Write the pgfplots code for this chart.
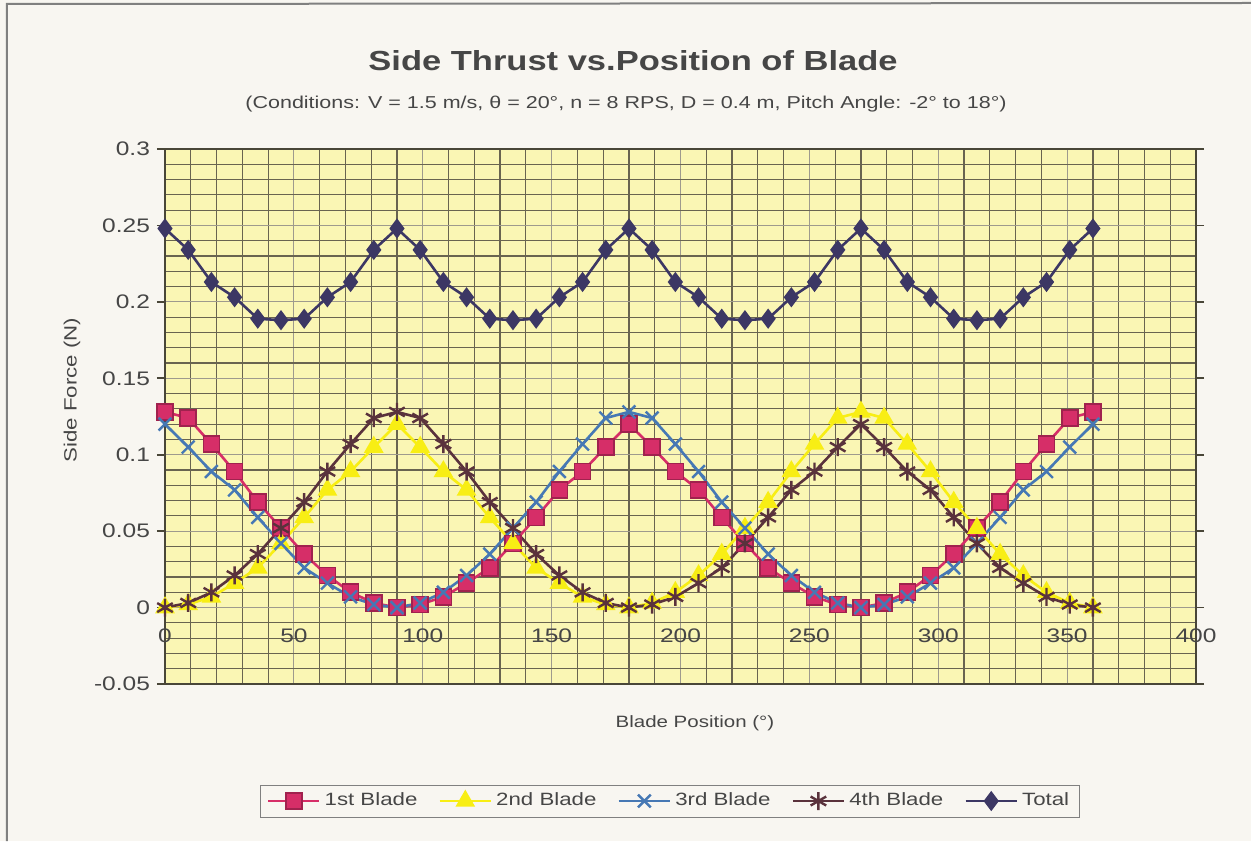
\documentclass[border=0pt]{standalone}
\usepackage{fontspec}
\setmainfont{Liberation Sans}[FakeStretch=1.25]
\usepackage{pgfplots}
\pgfplotsset{compat=1.18}
\usepackage{pgfplotstable}
\definecolor{bgyel}{RGB}{250,246,180}
\definecolor{gridc}{RGB}{105,100,80}
\definecolor{cA}{RGB}{214,46,104}
\definecolor{cB}{RGB}{248,238,20}
\definecolor{cC}{RGB}{70,120,180}
\definecolor{cD}{RGB}{90,50,60}
\definecolor{cE}{RGB}{60,55,100}
\definecolor{pagebg}{RGB}{248,246,241}
\definecolor{txt}{RGB}{70,70,70}
\pgfplotstableread{
x b1 b2 b3 b4 tot
0 0.128 0.000 0.120 0.000 0.248
9 0.124 0.002 0.105 0.003 0.234
18 0.107 0.007 0.089 0.010 0.213
27 0.089 0.016 0.077 0.021 0.203
36 0.069 0.026 0.059 0.035 0.189
45 0.052 0.042 0.042 0.052 0.188
54 0.035 0.059 0.026 0.069 0.189
63 0.021 0.077 0.016 0.089 0.203
72 0.010 0.089 0.007 0.107 0.213
81 0.003 0.105 0.002 0.124 0.234
90 0.000 0.120 0.000 0.128 0.248
99 0.002 0.105 0.003 0.124 0.234
108 0.007 0.089 0.010 0.107 0.213
117 0.016 0.077 0.021 0.089 0.203
126 0.026 0.059 0.035 0.069 0.189
135 0.042 0.042 0.052 0.052 0.188
144 0.059 0.026 0.069 0.035 0.189
153 0.077 0.016 0.089 0.021 0.203
162 0.089 0.007 0.107 0.010 0.213
171 0.105 0.002 0.124 0.003 0.234
180 0.120 0.000 0.128 0.000 0.248
189 0.105 0.003 0.124 0.002 0.234
198 0.089 0.010 0.107 0.007 0.213
207 0.077 0.021 0.089 0.016 0.203
216 0.059 0.035 0.069 0.026 0.189
225 0.042 0.052 0.052 0.042 0.188
234 0.026 0.069 0.035 0.059 0.189
243 0.016 0.089 0.021 0.077 0.203
252 0.007 0.107 0.010 0.089 0.213
261 0.002 0.124 0.003 0.105 0.234
270 0.000 0.128 0.000 0.120 0.248
279 0.003 0.124 0.002 0.105 0.234
288 0.010 0.107 0.007 0.089 0.213
297 0.021 0.089 0.016 0.077 0.203
306 0.035 0.069 0.026 0.059 0.189
315 0.052 0.052 0.042 0.042 0.188
324 0.069 0.035 0.059 0.026 0.189
333 0.089 0.021 0.077 0.016 0.203
342 0.107 0.010 0.089 0.007 0.213
351 0.124 0.003 0.105 0.002 0.234
360 0.128 0.000 0.120 0.000 0.248
}\datatab
\begin{document}
\begin{tikzpicture}
\useasboundingbox (-82.5pt,-78.5pt) rectangle (543pt,342pt);
\fill[pagebg] (-82.5pt,-78.5pt) rectangle (543pt,342pt);
\draw[gray, line width=1pt] (-79pt,-78.5pt) -- (-79pt,340pt) -- (543pt,340.5pt);
\begin{axis}[
  at={(0,0)}, anchor=south west, scale only axis,
  width=515.5pt, height=267.5pt,
  xmin=0, xmax=400, ymin=-0.05, ymax=0.3,
  xtick={0,50,...,400},
  ytick={-0.05,0,0.05,0.1,0.15,0.2,0.25,0.3},
  yticklabels={-0.05,0,0.05,0.1,0.15,0.2,0.25,0.3},
  minor tick num=4,
  grid=both,
  major grid style={gridc!65, line width=0.45pt},
  minor grid style={gridc, line width=0.6pt},
  axis background/.style={fill=bgyel},
  axis line style={gridc!70!black, line width=1.2pt},
  tick align=outside,
  major tick length=4pt, minor tick length=0pt,
  xtick style={draw=none},
  ytick style={gridc!70!black, line width=0.8pt},
  ticklabel style={font=\fontsize{9.8}{11}\selectfont, text=txt},
  xticklabel style={anchor=center, yshift=28pt},
  /pgf/number format/assume math mode=true,
  clip=false,
  xlabel={Blade Position (°)},
  ylabel={Side Force (N)},
  xlabel style={font=\fontsize{8.2}{9}\selectfont, text=txt, at={(axis description cs:0.514,-0.0729)}, anchor=center},
  ylabel style={font=\fontsize{8.9}{10}\selectfont, text=txt, at={(axis description cs:-0.0902,0.5495)}, anchor=center},
  legend columns=5,
  legend style={at={(axis description cs:0.4898,-0.2187)}, anchor=center,
    draw=gray, fill=pagebg, font=\fontsize{8.9}{10}\selectfont, text=txt,
    /tikz/every even column/.append style={column sep=8.5pt},
    inner xsep=3pt, inner ysep=2pt},
  legend image code/.code={\draw[mark repeat=2,mark phase=2] plot coordinates {(0cm,0cm) (0.45cm,0cm) (0.9cm,0cm)};},
]
\addplot[cA, line width=1.3pt, mark=square*, mark size=4pt, mark options={fill=cA, draw=cA!75!black, line width=0.8pt}] table[x=x,y=b1] {\datatab};
\addlegendentry{1st Blade}
\addplot[cB, line width=1.3pt, mark=triangle*, mark size=4.4pt, mark options={fill=cB, draw=cB}] table[x=x,y=b2] {\datatab};
\addlegendentry{2nd Blade}
\addplot[cC, line width=1.3pt, mark=x, mark size=4.5pt, mark options={line width=1.2pt}] table[x=x,y=b3] {\datatab};
\addlegendentry{3rd Blade}
\addplot[cD, line width=1.3pt, mark=asterisk, mark size=4.5pt, mark options={line width=1.2pt}] table[x=x,y=b4] {\datatab};
\addlegendentry{4th Blade}
\addplot[cE, line width=1.3pt, mark=diamond*, mark size=4pt, mark options={fill=cE, draw=cE}] table[x=x,y=tot] {\datatab};
\addlegendentry{Total}
\end{axis}
\node[font=\bfseries\fontsize{13.8}{16}\selectfont, text=txt] at (234pt,311.5pt) {Side Thrust vs.Position of Blade};
\node[font=\fontsize{8.6}{10}\selectfont, text=txt] at (230.5pt,290pt) {(Conditions: V = 1.5 m/s, θ = 20°, n = 8 RPS, D = 0.4 m, Pitch Angle: -2° to 18°)};
\end{tikzpicture}
\end{document}
